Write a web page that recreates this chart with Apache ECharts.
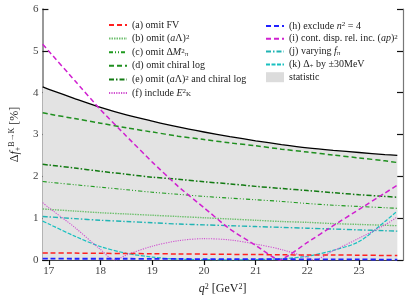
<!DOCTYPE html>
<html><head><meta charset="utf-8">
<script src="https://cdn.jsdelivr.net/npm/echarts@6/dist/echarts.min.js"></script>
<style>html,body{margin:0;padding:0;background:#fff}#c{width:407px;height:300px}</style>
</head><body><div id="c"></div>
<script>
// ---- data ----
const qGrid      = [16.88,17,17.5,18,18.5,19,19.5,20,20.5,21,21.5,22,22.5,23,23.5,23.74];
const statistic  = [4.14,4.08,3.86,3.65,3.47,3.32,3.18,3.06,2.95,2.85,2.76,2.68,2.62,2.57,2.52,2.50];
const omitFV     = [0.17,0.17,0.165,0.16,0.155,0.15,0.145,0.14,0.135,0.13,0.125,0.12,0.12,0.115,0.11,0.11];
const omitALam   = [1.22,1.21,1.17,1.13,1.10,1.07,1.04,1.01,0.98,0.95,0.92,0.90,0.87,0.85,0.83,0.82];
const omitDM     = [1.875,1.86,1.80,1.74,1.68,1.62,1.57,1.52,1.48,1.44,1.40,1.35,1.31,1.28,1.25,1.235];
const omitChiral = [3.52,3.49,3.38,3.27,3.16,3.06,2.96,2.88,2.80,2.73,2.65,2.58,2.51,2.44,2.37,2.33];
const omitBoth   = [2.29,2.27,2.20,2.12,2.05,1.98,1.93,1.87,1.82,1.76,1.71,1.66,1.61,1.56,1.52,1.50];
const excludeN4  = [0.035,0.035,0.03,0.03,0.03,0.025,0.025,0.02,0.02,0.02,0.02,0.015,0.015,0.015,0.01,0.01];
const varyFpi    = [1.04,1.03,0.99,0.95,0.92,0.89,0.86,0.84,0.82,0.80,0.78,0.76,0.74,0.72,0.70,0.69];
const deltaPlus  = [0.93,0.86,0.57,0.32,0.16,0.07,0.02,0.01,0.0,0.01,0.03,0.09,0.23,0.44,0.92,1.17];
const qEK        = [16.88,17,17.5,18,18.28,18.5,19,19.5,20,20.5,21,21.5,22,22.12,22.5,23,23.5,23.74];
const includeEK  = [1.37,1.25,0.78,0.25,0.0,0.12,0.33,0.46,0.51,0.48,0.38,0.25,0.06,0.0,0.22,0.52,0.84,1.03];
const qDisp      = [16.88,17,17.5,18,18.5,19,19.5,20,20.5,21,21.46,22,22.5,23,23.5,23.74];
const contDisp   = [5.16,4.99,4.29,3.59,2.96,2.34,1.76,1.25,0.74,0.35,0.0,0.42,0.82,1.21,1.60,1.79];
const xTicks = [17,18,19,20,21,22,23];

const pairs = (xs, ys) => xs.map((x, i) => [x, ys[i]]);
const serif = 'Liberation Serif';

function line(name, xs, ys, color, type, width, smooth) {
  return {
    name, type: 'line', data: pairs(xs, ys), symbol: 'none', smooth: smooth === undefined ? 0.3 : smooth,
    lineStyle: { color, type, width: width || 1.2 }, itemStyle: { color }, z: 3, clip: true
  };
}

const legendRich = {
  sup: { fontSize: 7, fontFamily: serif, verticalAlign: 'top', lineHeight: 10 },
  sub: { fontSize: 7, fontFamily: serif, verticalAlign: 'bottom', lineHeight: 10 },
  it: { fontSize: 10, fontFamily: serif, fontStyle: 'italic' }
};
const legendLabels = {
  '(a) omit FV': '(a) omit FV',
  '(b) omit (aΛ)²': '(b) omit ({it|a}Λ){sup|2}',
  '(c) omit ΔM²π': '(c) omit Δ{it|M}{sup|2}{sub|π}',
  '(d) omit chiral log': '(d) omit chiral log',
  '(e) omit (aΛ)² and chiral log': '(e) omit ({it|a}Λ){sup|2} and chiral log',
  '(f) include E²K': '(f) include {it|E}{sup|2}{sub|K}',
  '(h) exclude n² = 4': '(h) exclude {it|n}{sup|2} = 4',
  '(i) cont. disp. rel. inc. (ap)²': '(i) cont. disp. rel. inc. ({it|ap}){sup|2}',
  '(j) varying fπ': '(j) varying {it|f}{sub|π}',
  '(k) Δ+ by ±30MeV': '(k) Δ{sub|+} by ±30MeV',
  'statistic': 'statistic'
};

const chart = echarts.init(document.getElementById('c'), null, { renderer: 'canvas' });
const axisCol = '#444';
const legendCommon = {
  orient: 'vertical', itemWidth: 18, itemHeight: 10,
  itemStyle: { opacity: 0, borderWidth: 0 },
  textStyle: { fontFamily: serif, fontSize: 10, color: '#222', rich: legendRich },
  formatter: n => legendLabels[n] || n
};
const option = {
  animation: false,
  backgroundColor: '#fff',
  grid: { left: 30, right: 4, top: 9, bottom: 35 },
  xAxis: [{
    type: 'value', min: 16.875, max: 23.85,
    name: '{it|q}{sup|2} [GeV{sup|2}]', nameLocation: 'middle', nameGap: 23,
    nameTextStyle: { fontFamily: serif, fontSize: 12, color: '#222',
      rich: { it: { fontFamily: serif, fontSize: 12, fontStyle: 'italic' }, sup: { fontFamily: serif, fontSize: 8, verticalAlign: 'top', lineHeight: 12 } } },
    axisLine: { show: true, lineStyle: { color: axisCol, width: 1 } },
    axisTick: { show: true, inside: true, length: 5, customValues: xTicks, lineStyle: { color: '#111', width: 1.2 } },
    axisLabel: { customValues: xTicks, fontFamily: serif, fontSize: 11, color: '#444', margin: 6 },
    splitLine: { show: false }
  }, {
    type: 'value', position: 'top', min: 16.875, max: 23.85,
    axisLine: { show: true, lineStyle: { color: axisCol, width: 1 } },
    axisTick: { show: true, inside: true, length: 5, customValues: xTicks, lineStyle: { color: '#111', width: 1.2 } },
    axisLabel: { show: false }, splitLine: { show: false }
  }],
  yAxis: [{
    type: 'value', min: 0, max: 6, interval: 1,
    name: '{n|Δ}{it|f}{sub|+}{sup|B→K} {n|[%]}', nameLocation: 'middle', nameGap: 19, nameRotate: 90,
    nameTextStyle: { fontFamily: serif, fontSize: 12, color: '#222',
      rich: { n: { fontFamily: serif, fontSize: 12 }, it: { fontFamily: serif, fontSize: 12, fontStyle: 'italic' },
        sub: { fontFamily: serif, fontSize: 8, verticalAlign: 'bottom', lineHeight: 14 },
        sup: { fontFamily: serif, fontSize: 8, verticalAlign: 'top', lineHeight: 14 } } },
    axisLine: { show: true, lineStyle: { color: '#777', width: 1.5 } },
    axisTick: { show: true, inside: true, length: 6, lineStyle: { color: '#111', width: 1.2 } },
    axisLabel: { fontFamily: serif, fontSize: 11, color: '#444', margin: 4 },
    splitLine: { show: false }
  }, {
    type: 'value', position: 'right', min: 0, max: 6, interval: 1,
    axisLine: { show: true, lineStyle: { color: '#777', width: 1.2 } },
    axisTick: { show: true, inside: true, length: 6, lineStyle: { color: '#111', width: 1.2 } },
    axisLabel: { show: false }, splitLine: { show: false }
  }],
  legend: [Object.assign({}, legendCommon, {
    left: 103, top: 15, itemGap: 3.6,
    data: ['(a) omit FV', '(b) omit (aΛ)²', '(c) omit ΔM²π', '(d) omit chiral log', '(e) omit (aΛ)² and chiral log', '(f) include E²K']
  }), Object.assign({}, legendCommon, {
    left: 260, top: 16, itemGap: 2.8,
    data: ['(h) exclude n² = 4', '(i) cont. disp. rel. inc. (ap)²', '(j) varying fπ', '(k) Δ+ by ±30MeV',
      { name: 'statistic', icon: 'rect', itemStyle: { color: '#dcdcdc', opacity: 1 }, lineStyle: { opacity: 0 } }]
  })],
  series: [
    { name: 'statistic', type: 'line', data: pairs(qGrid, statistic), symbol: 'none', smooth: 0.3,
      lineStyle: { color: '#000', width: 1.3 }, itemStyle: { color: '#dcdcdc' },
      areaStyle: { color: '#e3e3e3', opacity: 1 }, z: 1 },
    line('(d) omit chiral log', qGrid, omitChiral, '#1f8f1f', [5, 3], 1.5),
    line('(e) omit (aΛ)² and chiral log', qGrid, omitBoth, '#127a12', [5, 2, 1.5, 2], 1.5),
    line('(c) omit ΔM²π', qGrid, omitDM, '#1f9a1f', [4, 2, 1, 2, 1, 2], 1.1),
    line('(b) omit (aΛ)²', qGrid, omitALam, '#70c070', [1.5, 1], 1.4),
    line('(j) varying fπ', qGrid, varyFpi, '#20b4b4', [5, 2, 1.5, 2], 1.4),
    line('(k) Δ+ by ±30MeV', qGrid, deltaPlus, '#18c0c0', [4, 1.5], 1.2),
    line('(f) include E²K', qEK, includeEK, '#d050d0', [1.2, 1.2], 1.1),
    line('(i) cont. disp. rel. inc. (ap)²', qDisp, contDisp, '#d020d0', [5, 3], 1.5, 0.15),
    line('(a) omit FV', qGrid, omitFV, '#ff2020', [5, 3], 1.5),
    line('(h) exclude n² = 4', qGrid, excludeN4, '#2020ff', [5, 3], 1.8)
  ]
};
chart.setOption(option);
</script></body></html>
